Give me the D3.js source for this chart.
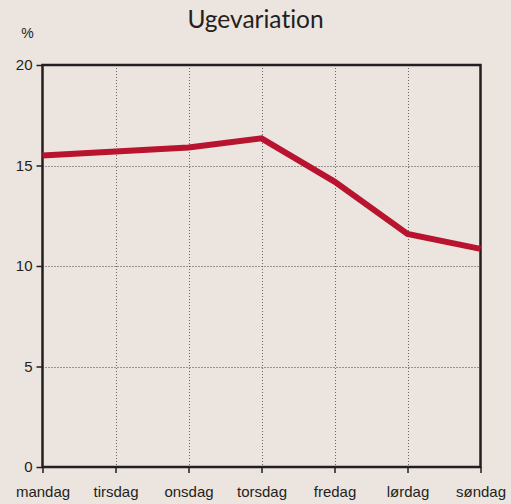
<!DOCTYPE html>
<html><head><meta charset="utf-8">
<script src="https://cdn.jsdelivr.net/npm/d3@7"></script>
<style>
html,body{margin:0;padding:0;background:#ebe4df;}
svg{display:block;}
text{font-variant-ligatures:none;font-feature-settings:"liga" 0;}
</style></head>
<body>
<script>
const title = "Ugevariation";
const unitLabel = "%";
const days = ["mandag","tirsdag","onsdag","torsdag","fredag","lørdag","søndag"];
const values = [15.5, 15.7, 15.9, 16.35, 14.2, 11.6, 10.85];
const yTicks = [0, 5, 10, 15, 20];

(function () {
const W = 511, H = 504;
const svg = d3.select("body").append("svg").attr("width", W).attr("height", H);
svg.append("rect").attr("width", W).attr("height", H).attr("fill", "#ebe4df");

const mL = 42.5, mR = 480.5, mT = 65, mB = 467;
const x = d3.scalePoint().domain(days).range([mL, mR]);
const y = d3.scaleLinear().domain([0, 20]).range([mB, mT]);

// grid
const g = svg.append("g");
g.selectAll(".vg").data(days.slice(1, -1)).join("line")
  .attr("x1", d => Math.round(x(d)) + 0.5).attr("x2", d => Math.round(x(d)) + 0.5)
  .attr("y1", mT).attr("y2", mB)
  .attr("stroke", "#666").attr("stroke-width", 1).attr("stroke-dasharray", "1,2");
g.selectAll(".hg").data(yTicks.filter(v => v > 0 && v < 20)).join("line")
  .attr("x1", mL).attr("x2", mR)
  .attr("y1", d => Math.round(y(d)) + 0.5).attr("y2", d => Math.round(y(d)) + 0.5)
  .attr("stroke", "#444").attr("stroke-width", 1).attr("stroke-dasharray", "1,2");

// axes
const yAxis = d3.axisLeft(y).tickValues(yTicks).tickSize(6).tickPadding(4);
const ya = svg.append("g").attr("transform", `translate(${mL},0)`).call(yAxis);
ya.select(".domain").remove();
ya.selectAll("line").attr("stroke", "#231f20").attr("stroke-width", 1.5);
ya.selectAll("text").attr("font-family", "Liberation Sans, Arial, sans-serif")
  .attr("font-size", 15).attr("fill", "#231f20");

const xAxis = d3.axisBottom(x).tickSize(6).tickPadding(13);
const xa = svg.append("g").attr("transform", `translate(0,${mB})`).call(xAxis);
xa.select(".domain").remove();
xa.selectAll("line").attr("stroke", "#231f20").attr("stroke-width", 1.5);
xa.selectAll("text").attr("font-family", "Liberation Sans, Arial, sans-serif")
  .attr("font-size", 15).attr("fill", "#231f20");

// frame
svg.append("rect").attr("x", mL).attr("y", mT).attr("width", mR - mL).attr("height", mB - mT)
  .attr("fill", "none").attr("stroke", "#231f20").attr("stroke-width", 2.5);

// line
const line = d3.line().x((d, i) => x(days[i])).y(d => y(d));
svg.append("path").datum(values).attr("d", line)
  .attr("fill", "none").attr("stroke", "#b8132f").attr("stroke-width", 6)
  .attr("stroke-linejoin", "miter");

// title
svg.append("text").attr("x", 255.5).attr("y", 28).attr("text-anchor", "middle")
  .attr("font-family", "Lato, 'Open Sans', sans-serif").attr("font-size", 24.5)
  .attr("fill", "#231f20").text(title);
svg.append("text").attr("x", 27.5).attr("y", 38).attr("text-anchor", "middle")
  .attr("font-family", "Liberation Sans, Arial, sans-serif").attr("font-size", 14)
  .attr("fill", "#231f20").text(unitLabel);
})();
</script>
</body></html>
